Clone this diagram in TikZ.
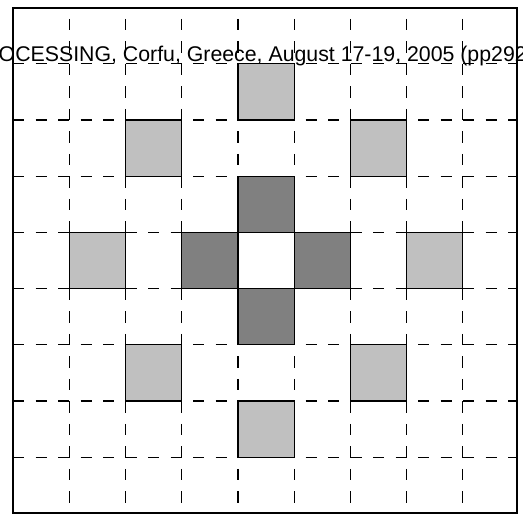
\documentclass[tikz,border=0pt]{standalone}
\usepackage{fontspec}
\setmainfont{Liberation Sans}
\definecolor{lightsq}{RGB}{192,192,192}
\definecolor{darksq}{RGB}{128,128,128}
\begin{document}
\begin{tikzpicture}[x=1pt,y=-1pt,
  hline/.style={line width=1.2pt, dash pattern=on 11.25pt off 11.25pt},
  vline/.style={line width=1.2pt, dash pattern=on 11.25pt off 11.25pt, dash phase=11.25pt},
  lightcell/.style={fill=lightsq, draw=black, line width=1.2pt},
  darkcell/.style={fill=darksq, draw=black, line width=1.2pt},
  plaincell/.style={draw=black, line width=1.2pt},
  frame/.style={draw=black, line width=2pt},
  header/.style={anchor=base west, inner sep=0pt, font=\fontsize{21.3}{25}\selectfont}]
\useasboundingbox (0,0) rectangle (523,517);
\fill[white] (0,0) rectangle (523,517);
% dashed grid
\foreach \k in {1,...,8} {
  \draw[hline] (13.2,{7.5+56.2*\k}) -- (516.5,{7.5+56.2*\k});
  \draw[vline] ({13.2+56.2*\k},7.5) -- ({13.2+56.2*\k},513.3);
}
% light squares
\foreach \c/\r in {4/1,2/2,6/2,1/4,7/4,2/6,6/6,4/7}
  \draw[lightcell] ({13.2+56.2*\c},{7.5+56.2*\r}) rectangle ++(56.2,56.2);
% dark squares
\foreach \c/\r in {4/3,3/4,5/4,4/5}
  \draw[darkcell] ({13.2+56.2*\c},{7.5+56.2*\r}) rectangle ++(56.2,56.2);
% centre cell
\draw[plaincell] ({13.2+56.2*4},{7.5+56.2*4}) rectangle ++(56.2,56.2);
% outer frame
\draw[frame] (13.2,7.5) rectangle (516.5,513.3);
% header text, clipped to the picture
\begin{scope}
\clip (0,0) rectangle (523,517);
\node[header] (hdr) at (-1.5,61) {OCESSING, Corfu, Greece, August 17-19, 2005 (pp292};
\end{scope}
\end{tikzpicture}
\end{document}
